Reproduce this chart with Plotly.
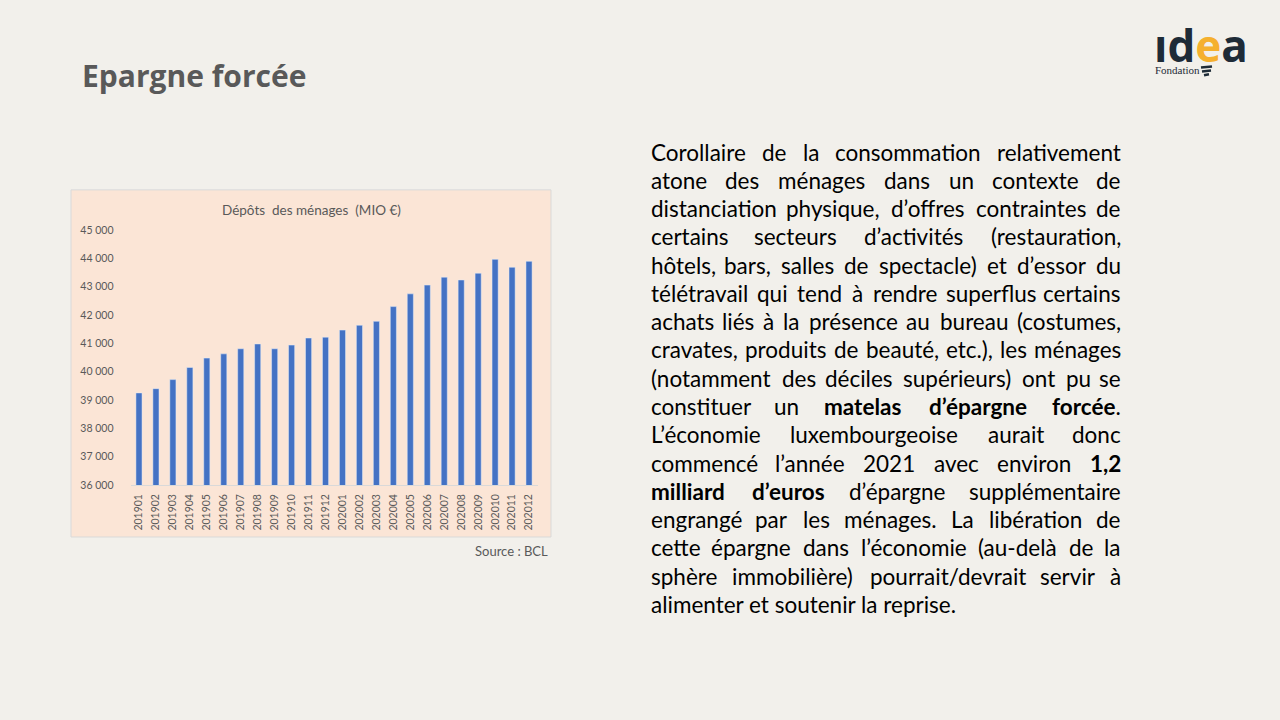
import unicodedata
import plotly.graph_objects as go

# ---------------- data ----------------
periods = ["201901", "201902", "201903", "201904", "201905", "201906", "201907", "201908",
           "201909", "201910", "201911", "201912", "202001", "202002", "202003", "202004",
           "202005", "202006", "202007", "202008", "202009", "202010", "202011", "202012"]
deposits = [39250, 39400, 39720, 40150, 40480, 40630, 40810, 40980,
            40810, 40940, 41190, 41220, 41470, 41640, 41780, 42300,
            42750, 43060, 43340, 43240, 43480, 43970, 43690, 43900]
y_ticks = [36000, 37000, 38000, 39000, 40000, 41000, 42000, 43000, 44000, 45000]

slide_title = "Epargne forcée"
chart_title = "Dépôts  des ménages  (MIO €)"
source_note = "Source : BCL"

body_lines = [
    "Corollaire de la consommation relativement",
    "atone des ménages dans un contexte de",
    "distanciation physique, d’offres contraintes de",
    "certains secteurs d’activités (restauration,",
    "hôtels, bars, salles de spectacle) et d’essor du",
    "télétravail qui tend à rendre superflus certains",
    "achats liés à la présence au bureau (costumes,",
    "cravates, produits de beauté, etc.), les ménages",
    "(notamment des déciles supérieurs) ont pu se",
    "constituer un <b>matelas</b> <b>d’épargne</b> <b>forcée</b>.",
    "L’économie luxembourgeoise aurait donc",
    "commencé l’année 2021 avec environ <b>1,2</b>",
    "<b>milliard</b> <b>d’euros</b> d’épargne supplémentaire",
    "engrangé par les ménages. La libération de",
    "cette épargne dans l’économie (au-delà de la",
    "sphère immobilière) pourrait/devrait servir à",
    "alimenter et soutenir la reprise.",
]

# ---------------- helpers ----------------
W, H = 1280, 720
def px(x):
    return x / W
def py(y):
    return 1 - y / H

GREY = "#595959"
BODY_FONT = "Lato"
BODY_SIZE = 22.5

CW = {
    " ": .19, "a": .50, "b": .56, "c": .46, "d": .56, "e": .52, "f": .32, "g": .50, "h": .56,
    "i": .24, "j": .24, "k": .50, "l": .24, "m": .84, "n": .56, "o": .56, "p": .55, "q": .56,
    "r": .37, "s": .42, "t": .36, "u": .56, "v": .51, "w": .77, "x": .49, "y": .51, "z": .45,
    "A": .68, "B": .63, "C": .66, "D": .72, "E": .55, "L": .48, "M": .86, "I": .28, "O": .77,
    ",": .20, ".": .20, "(": .30, ")": .30, "’": .20, "/": .37, "-": .33, ":": .24,
}
def word_width(w, size):
    bold = "<b>" in w
    plain = w.replace("<b>", "").replace("</b>", "")
    tot = 0.0
    for ch in plain:
        base = unicodedata.normalize("NFD", ch)[0]
        if base.isdigit():
            tot += .58
        else:
            tot += CW.get(base, .52)
    return tot * size * (1.05 if bold else 1.0)

# ---------------- figure ----------------
fig = go.Figure(go.Bar(x=periods, y=deposits, marker_color="#4472C4", width=0.36,
                       hoverinfo="x+y"))

shapes = [
    dict(type="rect", xref="paper", yref="paper", x0=px(71), x1=px(551), y0=py(540), y1=py(187),
         fillcolor="#FBE5D6", line=dict(color="#D9D9D9", width=1), layer="below"),
]
# logo bulb lines
for y0, xa, xb in [(62.5, 1201, 1212), (66.5, 1202, 1211), (70.5, 1204, 1209)]:
    shapes.append(dict(type="line", xref="paper", yref="paper", x0=px(xa), x1=px(xb),
                       y0=py(y0), y1=py(y0 - 1), line=dict(color="#1E2B37", width=2.5)))

annotations = [
    dict(text="<b>" + slide_title + "</b>", x=px(81), y=py(71), xanchor="left", yanchor="middle",
         font=dict(family="Open Sans", size=30, color=GREY)),
    dict(text=chart_title, x=px(311), y=py(207), xanchor="center", yanchor="middle",
         font=dict(family="Lato", size=13.5, color=GREY)),
    dict(text=source_note, x=px(549), y=py(554), xanchor="right", yanchor="middle",
         font=dict(family="Lato", size=13, color=GREY)),
    dict(text="<b>ıd<span style='color:#F5B02E'>e</span>a</b>", x=px(1249), y=py(40),
         xanchor="right", yanchor="middle",
         font=dict(family="Open Sans", size=44, color="#1E2B37")),
    dict(text="Fondation", x=px(1154), y=py(65.5), xanchor="left", yanchor="middle",
         font=dict(family="Liberation Serif", size=11, color="#1E2B37")),
]

# justified body text
LEFT, RIGHT = 650, 1122
y_first, lead = 148.5, 28.75
for i, line in enumerate(body_lines):
    words = line.split(" ")
    widths = [word_width(w, BODY_SIZE) for w in words]
    last = i == len(body_lines) - 1
    yy = y_first + i * lead
    font = dict(family=BODY_FONT, size=BODY_SIZE, color="#000000")
    if last or len(words) == 1:
        annotations.append(dict(text=line, x=px(LEFT), y=py(yy), xanchor="left",
                                yanchor="middle", font=font))
        continue
    gap = (RIGHT - LEFT - sum(widths)) / (len(words) - 1)
    xcur = LEFT
    for j, (w, wd) in enumerate(zip(words, widths)):
        if j == 0:
            annotations.append(dict(text=w, x=px(LEFT), y=py(yy), xanchor="left",
                                    yanchor="middle", font=font))
        elif j == len(words) - 1:
            annotations.append(dict(text=w, x=px(RIGHT), y=py(yy), xanchor="right",
                                    yanchor="middle", font=font))
        else:
            annotations.append(dict(text=w, x=px(xcur + wd / 2), y=py(yy), xanchor="center",
                                    yanchor="middle", font=font))
        xcur += wd + gap

for a in annotations:
    a.update(xref="paper", yref="paper", showarrow=False, borderpad=0)

fig.update_layout(
    width=W, height=H, margin=dict(l=0, r=0, t=0, b=0, pad=0),
    paper_bgcolor="#F2F0EB", plot_bgcolor="rgba(0,0,0,0)",
    showlegend=False, separators=", ",
    shapes=shapes, annotations=annotations,
    xaxis=dict(domain=[px(130.5), px(537.5)], type="category", range=[-0.5, 23.5],
               tickangle=-90, ticks="", showgrid=False, showline=True, linecolor="#D9D9D9",
               linewidth=1, tickfont=dict(family="Lato", size=10.5, color=GREY),
               ticklabelstandoff=4, fixedrange=True),
    yaxis=dict(domain=[py(487), py(228)], range=[36000, 45000], tickvals=y_ticks,
               tickformat=",d", ticks="", showgrid=False, zeroline=False, showline=False,
               tickfont=dict(family="Lato", size=10.5, color=GREY),
               ticklabelstandoff=16, fixedrange=True),
)

fig.write_html("out.html")
